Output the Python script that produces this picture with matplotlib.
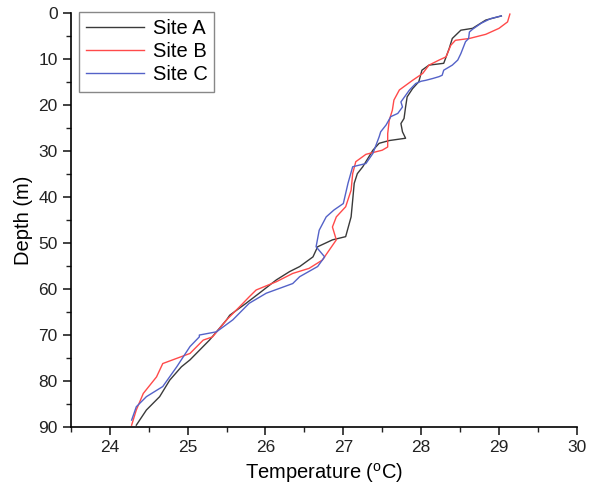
"""Temperature profiles with depth for three sites."""

import matplotlib
matplotlib.use('Agg')
import matplotlib.pyplot as plt
from matplotlib.ticker import MultipleLocator

# Site A (black)
depth_a = [0.6, 1.5, 3.3, 3.7, 5.5, 7.7, 10.9, 11.3, 12.4, 14.9, 16.4, 18.2,
           20.4, 22.9, 24.0, 25.8, 27.2, 27.7, 28.3, 29.8, 33.4, 34.9, 37.0,
           40.7, 44.3, 48.6, 49.3, 50.8, 53.0, 55.1, 56.2, 58.0, 60.9, 63.1,
           65.7, 66.7, 69.3, 71.1, 75.4, 76.9, 79.8, 83.4, 86.3, 89.6]
temp_a = [29.03, 28.83, 28.66, 28.51, 28.40, 28.36, 28.29, 28.10, 28.01,
          27.97, 27.89, 27.82, 27.80, 27.78, 27.74, 27.76, 27.80, 27.59,
          27.46, 27.38, 27.25, 27.18, 27.14, 27.12, 27.10, 27.03, 26.86,
          26.67, 26.61, 26.44, 26.31, 26.14, 25.92, 25.75, 25.54, 25.50,
          25.37, 25.28, 25.03, 24.92, 24.77, 24.64, 24.47, 24.34]

# Site B (red)
depth_b = [0.2, 1.9, 3.3, 4.6, 5.5, 5.9, 7.0, 9.5, 10.2, 11.3, 13.1, 14.6,
           16.7, 18.9, 21.1, 23.3, 26.2, 29.1, 29.8, 30.7, 32.3, 34.9, 38.5,
           42.1, 44.3, 46.5, 49.3, 51.5, 53.7, 55.5, 56.6, 58.4, 60.2, 61.7,
           63.8, 66.7, 70.4, 71.1, 74.0, 76.2, 79.1, 82.7, 86.3, 89.6]
temp_b = [29.14, 29.11, 29.00, 28.83, 28.62, 28.44, 28.38, 28.32, 28.23,
          28.10, 28.02, 27.89, 27.72, 27.65, 27.63, 27.59, 27.57, 27.57,
          27.50, 27.29, 27.16, 27.12, 27.10, 27.03, 26.91, 26.86, 26.91,
          26.82, 26.73, 26.56, 26.35, 26.14, 25.88, 25.79, 25.67, 25.50,
          25.32, 25.20, 25.03, 24.68, 24.60, 24.43, 24.34, 24.28]

# Site C (blue)
depth_c = [0.6, 1.2, 2.2, 3.5, 4.1, 5.5, 6.2, 8.8, 10.2, 11.3, 12.4, 13.5,
           13.8, 14.2, 14.6, 14.8, 15.3, 16.7, 19.3, 20.4, 21.8, 22.5, 24.3,
           25.8, 26.9, 30.5, 32.7, 33.4, 37.0, 41.4, 42.8, 44.3, 47.2, 50.8,
           53.0, 55.1, 57.3, 58.8, 60.9, 63.1, 66.7, 69.3, 70.0, 70.4, 72.5,
           76.9, 81.2, 83.4, 85.6, 88.5]
temp_c = [29.03, 28.89, 28.77, 28.66, 28.62, 28.61, 28.57, 28.51, 28.47,
          28.40, 28.29, 28.27, 28.23, 28.15, 28.06, 28.00, 27.93, 27.85,
          27.74, 27.76, 27.70, 27.61, 27.55, 27.48, 27.46, 27.38, 27.29,
          27.12, 27.06, 27.00, 26.88, 26.78, 26.69, 26.65, 26.76, 26.67,
          26.44, 26.35, 26.01, 25.79, 25.58, 25.37, 25.15, 25.15, 25.03,
          24.86, 24.68, 24.47, 24.34, 24.28]

# Plot configuration
plt.rcParams['font.family'] = ['Liberation Sans', 'DejaVu Sans']
plt.rcParams['mathtext.fontset'] = 'custom'
plt.rcParams['mathtext.rm'] = 'Liberation Sans'
plt.rcParams['axes.linewidth'] = 1.2
plt.rcParams['xtick.major.width'] = 1.2
plt.rcParams['ytick.major.width'] = 1.2
plt.rcParams['xtick.minor.width'] = 1.0
plt.rcParams['ytick.minor.width'] = 1.0

fig = plt.figure(figsize=(5.91, 4.88), dpi=100)
ax = fig.add_axes([0.120, 0.125, 0.856, 0.848])

ax.plot(temp_a, depth_a, color='#3a3a3a', lw=1.0, label='Site A')
ax.plot(temp_b, depth_b, color='#ff4a4a', lw=1.0, label='Site B')
ax.plot(temp_c, depth_c, color='#5462c8', lw=1.0, label='Site C')

ax.set_xlim(23.5, 30)
ax.set_ylim(90, 0)
ax.xaxis.set_major_locator(MultipleLocator(1))
ax.xaxis.set_minor_locator(MultipleLocator(0.5))
ax.yaxis.set_major_locator(MultipleLocator(10))
ax.yaxis.set_minor_locator(MultipleLocator(5))
ax.tick_params(which='major', direction='out', length=6, labelsize=12.5,
               colors='#222222')
ax.tick_params(which='minor', direction='out', length=3.5, colors='#222222')
ax.spines['top'].set_visible(False)
ax.spines['right'].set_visible(False)

ax.set_xlabel('Temperature ($\\mathregular{^{o}}$C)', fontsize=14.5)
ax.set_ylabel('Depth (m)', fontsize=14.5)

leg = ax.legend(loc='upper left', bbox_to_anchor=(0.016, 1.002), fontsize=14.5,
                fancybox=False, framealpha=1, edgecolor='#888888',
                handlelength=2.9, handletextpad=0.4, labelspacing=0.2,
                borderpad=0.35, borderaxespad=0.0)
leg.get_frame().set_linewidth(1.0)

fig.savefig('out.png', dpi=100)
